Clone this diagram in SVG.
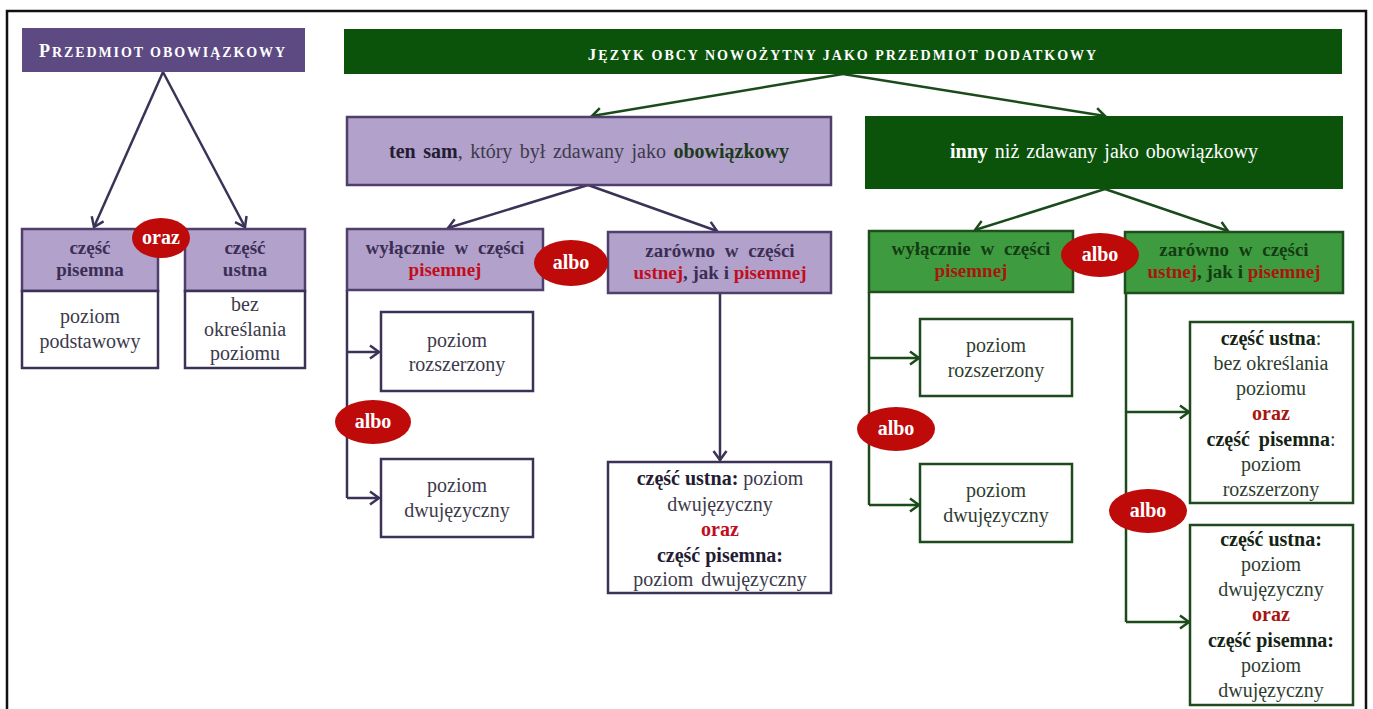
<svg xmlns="http://www.w3.org/2000/svg" width="1373" height="709" viewBox="0 0 1373 709">
<defs>
<style>
.t{font-family:"Liberation Serif","Times New Roman",serif;text-anchor:middle;font-size:20px}
.b{font-weight:bold}
.s19{font-size:19px}
.w{fill:#ffffff}
.pd{fill:#3b2e55}
.pg{fill:#3c3a4a}
.pk{fill:#241c33}
.gd{fill:#143c14}
.gg{fill:#2f3d2f}
.gk{fill:#142414}
.rp{fill:#c20d20}
.rg{fill:#a8160f}
.ph{fill:#5d4a82}
.pl{fill:#b2a1cb;stroke:#4e3f6c;stroke-width:2.5}
.pw{fill:#ffffff;stroke:#3c3257;stroke-width:2.5}
.gh{fill:#0b530b}
.gl{fill:#3f9b3f;stroke:#1e4e1e;stroke-width:2.5}
.gw{fill:#ffffff;stroke:#1e4a1e;stroke-width:2.5}
.el{fill:#bf0a0a}
.cp{stroke:#3c3257;stroke-width:2.5;fill:none}
.cg{stroke:#1b4a1b;stroke-width:2.5;fill:none}
</style>
<marker id="ap" markerUnits="userSpaceOnUse" markerWidth="16" markerHeight="16" refX="11" refY="8" orient="auto">
<path d="M2,1.5 L11,8 L2,14.5" fill="none" stroke="#3c3257" stroke-width="2.5"/>
</marker>
<marker id="ag" markerUnits="userSpaceOnUse" markerWidth="16" markerHeight="16" refX="11" refY="8" orient="auto">
<path d="M2,1.5 L11,8 L2,14.5" fill="none" stroke="#1b4a1b" stroke-width="2.5"/>
</marker>
</defs>
<rect x="0" y="0" width="1373" height="709" fill="#ffffff"/>
<rect x="7" y="11" width="1359" height="730" fill="none" stroke="#111111" stroke-width="2.5"/>

<g id="connectors">
<path class="cp" d="M163,72 L94,227" marker-end="url(#ap)"/>
<path class="cp" d="M163,72 L245,227" marker-end="url(#ap)"/>
<path class="cg" d="M843,74 L592,116" marker-end="url(#ag)"/>
<path class="cg" d="M843,74 L1105,116" marker-end="url(#ag)"/>
<path class="cp" d="M588,185 L448,228" marker-end="url(#ap)"/>
<path class="cp" d="M588,185 L717,231" marker-end="url(#ap)"/>
<path class="cp" d="M347,290 V498"/>
<path class="cp" d="M347,352 H379" marker-end="url(#ap)"/>
<path class="cp" d="M347,498 H379" marker-end="url(#ap)"/>
<path class="cp" d="M720,293 V460" marker-end="url(#ap)"/>
<path class="cg" d="M1105,189 L975,230" marker-end="url(#ag)"/>
<path class="cg" d="M1105,189 L1228,231" marker-end="url(#ag)"/>
<path class="cg" d="M869,292 V505"/>
<path class="cg" d="M869,358 H919" marker-end="url(#ag)"/>
<path class="cg" d="M869,505 H919" marker-end="url(#ag)"/>
<path class="cg" d="M1126,293 V622"/>
<path class="cg" d="M1126,412 H1189" marker-end="url(#ag)"/>
<path class="cg" d="M1126,622 H1189" marker-end="url(#ag)"/>
</g>

<g id="przedmiot-obowiazkowy">
<rect class="ph" x="22" y="28" width="283" height="44"/>
<text class="t b w" x="163" y="57" letter-spacing="1.9"><tspan font-size="18">P</tspan><tspan font-size="14">RZEDMIOT OBOWIĄZKOWY</tspan></text>
</g>

<g id="czesc-pisemna">
<rect class="pl" x="22" y="229" width="136" height="62"/>
<text class="t b s19 pd" x="90" y="254">część</text>
<text class="t b s19 pd" x="90" y="276">pisemna</text>
<rect class="pw" x="22" y="291" width="136" height="77"/>
<text class="t pg" x="90" y="323">poziom</text>
<text class="t pg" x="90" y="348">podstawowy</text>
</g>

<g id="czesc-ustna">
<rect class="pl" x="185" y="229" width="120" height="62"/>
<text class="t b s19 pd" x="245" y="254">część</text>
<text class="t b s19 pd" x="245" y="276">ustna</text>
<rect class="pw" x="185" y="291" width="120" height="77"/>
<text class="t pg" x="245" y="311">bez</text>
<text class="t pg" x="245" y="336">określania</text>
<text class="t pg" x="245" y="360">poziomu</text>
</g>

<g id="jezyk-dodatkowy">
<rect class="gh" x="344" y="29" width="998" height="45"/>
<text class="t b w" x="843" y="60" letter-spacing="2"><tspan font-size="17">J</tspan><tspan font-size="14">ĘZYK OBCY NOWOŻYTNY JAKO PRZEDMIOT DODATKOWY</tspan></text>
</g>

<g id="ten-sam">
<rect class="pl" x="347" y="117" width="484" height="68"/>
<text class="t pg" x="589" y="158" word-spacing="2.5"><tspan class="b pk">ten sam</tspan>, który był zdawany jako <tspan class="b" fill="#1d3a1d">obowiązkowy</tspan></text>
</g>

<g id="inny">
<rect class="gh" x="865" y="116" width="478" height="73"/>
<text class="t w" x="1104" y="158" word-spacing="2"><tspan class="b">inny</tspan> niż zdawany jako obowiązkowy</text>
</g>

<g id="p-wylacznie">
<rect class="pl" x="347" y="229" width="196" height="61"/>
<text class="t b s19 pd" x="445" y="254" word-spacing="5">wyłącznie w części</text>
<text class="t b s19 rp" x="445" y="276">pisemnej</text>
</g>

<g id="p-zarowno">
<rect class="pl" x="608" y="232" width="223" height="61"/>
<text class="t b s19 pd" x="720" y="257" word-spacing="5">zarówno w części</text>
<text class="t b s19 pd" x="720" y="279"><tspan class="rp">ustnej</tspan>, jak i <tspan class="rp">pisemnej</tspan></text>
</g>

<g id="p-rozszerzony">
<rect class="pw" x="381" y="312" width="152" height="79"/>
<text class="t pg" x="457" y="347">poziom</text>
<text class="t pg" x="457" y="371">rozszerzony</text>
</g>

<g id="p-dwujezyczny">
<rect class="pw" x="381" y="459" width="152" height="78"/>
<text class="t pg" x="457" y="492">poziom</text>
<text class="t pg" x="457" y="517">dwujęzyczny</text>
</g>

<g id="p-obie">
<rect class="pw" x="608" y="462" width="223" height="131"/>
<text class="t pg" x="720" y="485"><tspan class="b pk">część ustna:</tspan> poziom</text>
<text class="t pg" x="720" y="511">dwujęzyczny</text>
<text class="t b rp" x="720" y="536">oraz</text>
<text class="t b pk" x="720" y="562">część pisemna:</text>
<text class="t pg" x="720" y="586" word-spacing="3">poziom dwujęzyczny</text>
</g>

<g id="g-wylacznie">
<rect class="gl" x="869" y="231" width="204" height="61"/>
<text class="t b s19 gd" x="971" y="255" word-spacing="5">wyłącznie w części</text>
<text class="t b s19 rg" x="971" y="277">pisemnej</text>
</g>

<g id="g-zarowno">
<rect class="gl" x="1125" y="232" width="218" height="61"/>
<text class="t b s19 gd" x="1234" y="256" word-spacing="5">zarówno w części</text>
<text class="t b s19 gd" x="1234" y="278"><tspan class="rg">ustnej</tspan>, jak i <tspan class="rg">pisemnej</tspan></text>
</g>

<g id="g-rozszerzony">
<rect class="gw" x="920" y="319" width="152" height="77"/>
<text class="t gg" x="996" y="352">poziom</text>
<text class="t gg" x="996" y="377">rozszerzony</text>
</g>

<g id="g-dwujezyczny">
<rect class="gw" x="920" y="464" width="152" height="78"/>
<text class="t gg" x="996" y="497">poziom</text>
<text class="t gg" x="996" y="522">dwujęzyczny</text>
</g>

<g id="g-ustna-bez">
<rect class="gw" x="1190" y="322" width="163" height="181"/>
<text class="t gg" x="1271" y="345"><tspan class="b gk">część ustna</tspan>:</text>
<text class="t gg" x="1271" y="370">bez określania</text>
<text class="t gg" x="1271" y="395">poziomu</text>
<text class="t b rg" x="1271" y="420">oraz</text>
<text class="t gg" x="1271" y="446" word-spacing="4"><tspan class="b gk">część pisemna</tspan>:</text>
<text class="t gg" x="1271" y="471">poziom</text>
<text class="t gg" x="1271" y="496">rozszerzony</text>
</g>

<g id="g-dwujezyczny-obie">
<rect class="gw" x="1190" y="525" width="163" height="180"/>
<text class="t b gk" x="1271" y="546">część ustna:</text>
<text class="t gg" x="1271" y="571">poziom</text>
<text class="t gg" x="1271" y="596">dwujęzyczny</text>
<text class="t b rg" x="1271" y="621">oraz</text>
<text class="t b gk" x="1271" y="647">część pisemna:</text>
<text class="t gg" x="1271" y="672">poziom</text>
<text class="t gg" x="1271" y="697">dwujęzyczny</text>
</g>

<g id="oraz-1">
<ellipse class="el" cx="161" cy="238" rx="29" ry="20"/>
<text class="t b w" x="161" y="244" font-size="18">oraz</text>
</g>
<g id="albo-1">
<ellipse class="el" cx="571" cy="263" rx="37" ry="23"/>
<text class="t b w" x="571" y="269" font-size="19">albo</text>
</g>
<g id="albo-2">
<ellipse class="el" cx="373" cy="422" rx="38" ry="22"/>
<text class="t b w" x="373" y="428" font-size="19">albo</text>
</g>
<g id="albo-3">
<ellipse class="el" cx="1100" cy="255" rx="39" ry="22"/>
<text class="t b w" x="1100" y="261" font-size="19">albo</text>
</g>
<g id="albo-4">
<ellipse class="el" cx="896" cy="429" rx="39" ry="22"/>
<text class="t b w" x="896" y="435" font-size="19">albo</text>
</g>
<g id="albo-5">
<ellipse class="el" cx="1148" cy="511" rx="39" ry="22"/>
<text class="t b w" x="1148" y="517" font-size="19">albo</text>
</g>
</svg>
